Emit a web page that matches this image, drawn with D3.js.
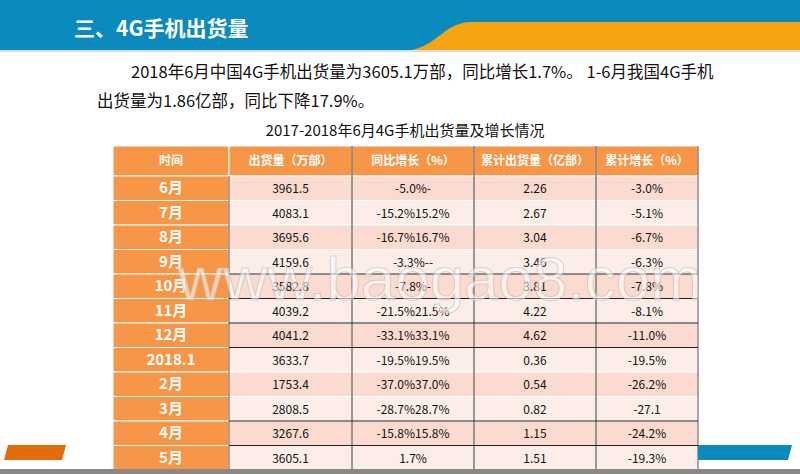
<!DOCTYPE html><html><head><meta charset="utf-8"><script src="https://cdn.jsdelivr.net/npm/d3@7"></script>
<style>body{margin:0;background:#fff}svg{display:block;font-family:"Noto Sans CJK SC","Liberation Sans Narrow",sans-serif}</style></head><body><svg id="c" width="800" height="474"></svg>
<script>
const headers=["时间","出货量（万部）","同比增长（%）","累计出货量（亿部）","累计增长（%）"];
const months=["6月","7月","8月","9月","10月","11月","12月","2018.1","2月","3月","4月","5月"];
const shipments=["3961.5","4083.1","3695.6","4159.6","3582.8","4039.2","4041.2","3633.7","1753.4","2808.5","3267.6","3605.1"];
const yoy=["-5.0%-","-15.2%15.2%","-16.7%16.7%","-3.3%--","-7.8%-","-21.5%21.5%","-33.1%33.1%","-19.5%19.5%","-37.0%37.0%","-28.7%28.7%","-15.8%15.8%","1.7%"];
const cumulative=["2.26","2.67","3.04","3.46","3.81","4.22","4.62","0.36","0.54","0.82","1.15","1.51"];
const cumGrowth=["-3.0%","-5.1%","-6.7%","-6.3%","-7.8%","-8.1%","-11.0%","-19.5%","-26.2%","-27.1","-24.2%","-19.3%"];
const colWidths=[116,123,122,122,102];

const svg=d3.select("#c");
svg.append("rect").attr("width",800).attr("height",52).attr("fill","#0b8bbd");
svg.append("path").attr("d","M400,52 C440,48 440,24 470,22 L800,22 L800,52 Z").attr("fill","#f6a410");
svg.append("rect").attr("y",50).attr("width",800).attr("height",2).attr("fill","#ddd");
svg.append("text").attr("x",74).attr("y",36).attr("fill","#fff").attr("font-size",21).attr("font-weight","bold").text("三、4G手机出货量");
svg.append("text").attr("x",131).attr("y",78).attr("font-size",16.5).attr("fill","#111").text("2018年6月中国4G手机出货量为3605.1万部，同比增长1.7%。 1-6月我国4G手机");
svg.append("text").attr("x",97).attr("y",107).attr("font-size",16.5).attr("fill","#111").text("出货量为1.86亿部，同比下降17.9%。");
svg.append("text").attr("x",405).attr("y",136).attr("text-anchor","middle").attr("font-size",15).attr("fill","#111").text("2017-2018年6月4G手机出货量及增长情况");

const x0=113, cum=[0]; colWidths.forEach(w=>cum.push(cum[cum.length-1]+w));
const x=d3.scaleLinear().domain([0,cum[cum.length-1]]).range([x0,x0+cum[cum.length-1]]);
const y=d3.scaleBand().domain(months).range([176,470]);
const g=svg.append("g");
headers.forEach((h,i)=>{
 g.append("rect").attr("x",x(cum[i])).attr("y",146).attr("width",x(cum[i+1])-x(cum[i])).attr("height",30).attr("fill","#f79646").attr("stroke","#fff").attr("stroke-width",1);
 g.append("text").attr("x",(x(cum[i])+x(cum[i+1]))/2).attr("y",165).attr("text-anchor","middle").attr("fill","#fff").attr("font-size",12).attr("font-weight","bold").text(h);
});
const cols=[months,shipments,yoy,cumulative,cumGrowth];
months.forEach((m,r)=>{
 const yy=y(m),h=y.bandwidth();
 cols.forEach((col,i)=>{
  g.append("rect").attr("x",x(cum[i])).attr("y",yy).attr("width",x(cum[i+1])-x(cum[i])).attr("height",h)
   .attr("fill",i==0?"#f79646":(r%2==0?"#fbdbd0":"#fdede9")).attr("stroke","#fff").attr("stroke-width",1);
  g.append("text").attr("x",(x(cum[i])+x(cum[i+1]))/2).attr("y",yy+h/2+5).attr("text-anchor","middle")
   .attr("fill",i==0?"#fff":"#111").attr("font-size",i==0?15:12).attr("font-weight",i==0?"bold":"normal").text(col[r]);
 });
});
[2,3,4].forEach(i=>g.append("line").attr("x1",x(cum[i])).attr("x2",x(cum[i])).attr("y1",146).attr("y2",470).attr("stroke","#777").attr("stroke-width",1.5));
g.append("line").attr("x1",x(cum[5])).attr("x2",x(cum[5])).attr("y1",146).attr("y2",470).attr("stroke","#555");
g.append("line").attr("x1",x(cum[1])).attr("x2",x(cum[1])).attr("y1",176).attr("y2",470).attr("stroke","#555");
["10月","11月","12月","2018.1","4月","5月"].forEach(m=>g.append("line").attr("x1",x(cum[1])).attr("x2",x(cum[5])).attr("y1",y(m)).attr("y2",y(m)).attr("stroke","#222"));
svg.append("path").attr("d","M8,445 L66,445 L62,460 L4,460 Z").attr("fill","#e36c0a");
svg.append("path").attr("d","M698,445 L792,445 L788,460 L698,460 Z").attr("fill","#0b8bbd");
svg.append("rect").attr("y",469).attr("width",800).attr("height",5).attr("fill","#888");
svg.append("text").attr("x",440).attr("y",300).attr("text-anchor","middle").attr("font-family","Liberation Sans").attr("font-size",62).attr("fill","#fff").attr("fill-opacity",0.55).attr("stroke","#bbb").attr("stroke-opacity",0.6).text("www.baogao8.com");
</script></body></html>
